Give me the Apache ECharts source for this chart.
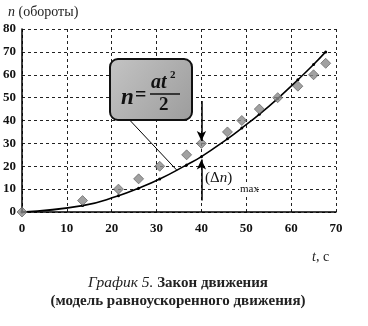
<!DOCTYPE html>
<html><head><meta charset="utf-8">
<script src="https://cdn.jsdelivr.net/npm/echarts@6/dist/echarts.min.js"></script>
<style>html,body{margin:0;padding:0;background:#fff}#c{width:368px;height:326px}</style>
</head><body><div id="c"></div>
<script>
// time values (s) of the measurements
var tValues = [0, 13.5, 21.5, 26, 30.7, 36.7, 40, 45.8, 49, 52.9, 57, 61.5, 65, 67.7];
// measured revolutions (diamonds)
var nMeasured = [0, 5, 10, 14.5, 20, 25, 30, 35, 40, 45, 50, 55, 60, 65];
// model n = a t^2 / 2
var nModel = [0, 2.8, 7.1, 10.4, 14.4, 20.6, 24.2, 32, 36.7, 42.7, 49.6, 57.8, 64.5, 70];
var xTicks = [0, 10, 20, 30, 40, 50, 60, 70];
var yTicks = [0, 10, 20, 30, 40, 50, 60, 70, 80];

var serif = '"Liberation Serif", "DejaVu Serif", serif';
var chart = echarts.init(document.getElementById('c'), null, {renderer: 'canvas'});
var splitStyle = {color: '#222', width: 1, type: [3, 3]};
chart.setOption({
  animation: false,
  grid: {left: 22, right: 32, top: 29, bottom: 114},
  xAxis: {
    type: 'value', min: xTicks[0], max: xTicks[xTicks.length - 1], interval: 10,
    axisLine: {show: true, lineStyle: {color: '#000', width: 1.5}},
    axisTick: {show: false},
    splitLine: {show: true, lineStyle: splitStyle},
    axisLabel: {margin: 10, fontFamily: serif, fontWeight: 'bold', fontSize: 13, color: '#111'}
  },
  yAxis: {
    type: 'value', min: yTicks[0], max: yTicks[yTicks.length - 1], interval: 10,
    axisLine: {show: true, lineStyle: {color: '#000', width: 1.5}},
    axisTick: {show: false},
    splitLine: {show: true, lineStyle: splitStyle},
    axisLabel: {margin: 6, fontFamily: serif, fontWeight: 'bold', fontSize: 13, color: '#111'}
  },
  series: [
    {
      type: 'line', smooth: true, z: 3,
      data: tValues.map(function (t, i) { return [t, nModel[i]]; }),
      showAllSymbol: true, symbol: 'circle', symbolSize: 3,
      itemStyle: {color: '#000'},
      lineStyle: {color: '#000', width: 1.6},
      markLine: {
        silent: true, symbol: ['none', 'none'], symbolSize: [7, 10],
        label: {show: false},
        lineStyle: {color: '#000', width: 1.5, type: 'solid'},
        data: [
          [{coord: [40, 48.5], symbol: 'none'}, {coord: [40, 31], symbol: 'arrow'}],
          [{coord: [40, 5], symbol: 'none'}, {coord: [40, 23], symbol: 'arrow'}],
          [{coord: [24, 40.2], symbol: 'none', lineStyle: {width: 1}}, {coord: [34.5, 18.3], symbol: 'none'}]
        ]
      }
    },
    {
      type: 'scatter', z: 4,
      data: tValues.map(function (t, i) { return [t, nMeasured[i]]; }),
      symbol: 'diamond', symbolSize: 10,
      itemStyle: {color: '#8a8a8a', borderColor: '#555', borderWidth: 0.8}
    }
  ],
  graphic: [
    {type: 'text', left: 8, top: 5, style: {text: '{i|n} (обороты)', font: '14px ' + serif, fill: '#222',
      rich: {i: {fontStyle: 'italic', fontFamily: serif, fontSize: 14}}}},
    {type: 'text', left: 312, top: 250, style: {text: '{i|t}, с', font: '14px ' + serif, fill: '#222',
      rich: {i: {fontStyle: 'italic', fontFamily: serif, fontSize: 14}}}},
    {type: 'rect', z: 100, shape: {x: 110, y: 59, width: 82, height: 61, r: 8},
      style: {fill: new echarts.graphic.LinearGradient(0, 0, 1, 1, [{offset: 0, color: '#c4c4c4'}, {offset: 1, color: '#9c9c9c'}]),
        stroke: '#111', lineWidth: 2}},
    {type: 'text', z: 101, left: 121, top: 87, style: {text: 'n', font: 'italic bold 23px ' + serif, fill: '#111'}},
    {type: 'text', z: 101, left: 135, top: 86, style: {text: '=', font: 'bold 20px ' + serif, fill: '#111'}},
    {type: 'text', z: 101, left: 151, top: 73, style: {text: 'at', font: 'italic bold 20px ' + serif, fill: '#111'}},
    {type: 'text', z: 101, left: 170, top: 70, style: {text: '2', font: 'bold 11px ' + serif, fill: '#111'}},
    {type: 'line', z: 101, shape: {x1: 150, y1: 94, x2: 180, y2: 94}, style: {stroke: '#111', lineWidth: 1.5}},
    {type: 'text', z: 101, left: 159, top: 96, style: {text: '2', font: 'bold 19px ' + serif, fill: '#111'}},
    {type: 'text', z: 50, left: 205, top: 171, style: {text: '(Δ{i|n})', font: '15px ' + serif, fill: '#111',
      rich: {i: {fontStyle: 'italic', fontFamily: serif, fontSize: 15}}}},
    {type: 'rect', z: 49, shape: {x: 239, y: 185, width: 18, height: 9}, style: {fill: '#fff'}},
    {type: 'text', z: 50, left: 240, top: 184, style: {text: 'max', font: '11px ' + serif, fill: '#111'}},
    {type: 'text', x: 178, y: 274, style: {
      text: '{i|График 5.} {b|Закон движения}\n{b|(модель равноускоренного движения)}',
      align: 'center', font: '15px ' + serif, fill: '#222', lineHeight: 18,
      rich: {i: {fontStyle: 'italic', fontFamily: serif, fontSize: 15.5, lineHeight: 18},
             b: {fontWeight: 'bold', fontFamily: serif, fontSize: 15, lineHeight: 18}}}}
  ]
});
</script></body></html>
